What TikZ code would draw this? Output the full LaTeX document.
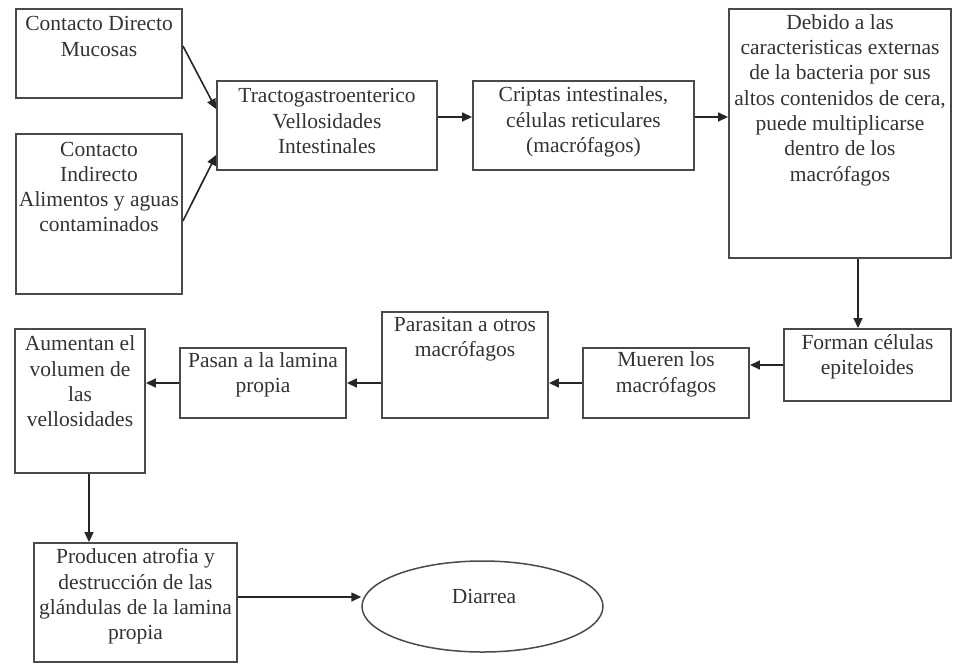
\documentclass[tikz,border=0pt]{standalone}
\usepackage{fontspec}
\setmainfont{Liberation Serif}
\usetikzlibrary{arrows.meta,shapes.geometric}
\definecolor{ln}{HTML}{4A4A4A}
\definecolor{tx}{HTML}{333333}
\tikzset{
  box/.style={draw=ln, line width=1.9pt, rectangle, inner sep=0pt, fill=none},
  oval/.style={draw=ln, line width=1.5pt, ellipse, inner sep=0pt},
  lbl/.style={text=tx, align=center, inner sep=0pt, font=\fontsize{21.5}{25.3}\selectfont},
  arr/.style={draw=black!85, line width=1.6pt, -{Triangle[length=10pt,width=9pt]}}
}
\begin{document}
\begin{tikzpicture}[x=1pt,y=-1pt]
\useasboundingbox (0,0) rectangle (956,665);
% boxes
\node[box, minimum width=166, minimum height=89] (A) at (99,53.5) {};
\node[box, minimum width=166, minimum height=160] (B) at (99,214) {};
\node[box, minimum width=220, minimum height=89] (C) at (327,125.5) {};
\node[box, minimum width=221, minimum height=89] (D) at (583.5,125.5) {};
\node[box, minimum width=222, minimum height=249] (E) at (840,133.5) {};
\node[box, minimum width=167, minimum height=72] (F) at (867.5,365) {};
\node[box, minimum width=166, minimum height=70] (G) at (666,383) {};
\node[box, minimum width=166, minimum height=106] (H) at (465,365) {};
\node[box, minimum width=166, minimum height=70] (I) at (263,383) {};
\node[box, minimum width=130, minimum height=144] (J) at (80,401) {};
\node[box, minimum width=203, minimum height=119] (K) at (135.5,602.5) {};
\node[oval, minimum width=241, minimum height=91] (L) at (482.5,606.5) {};
% texts
\node[lbl] (tA) at (99,36.5) {Contacto Directo\\Mucosas};
\node[lbl] (tB) at (99,187) {Contacto\\Indirecto\\Alimentos y aguas\\contaminados};
\node[lbl] (tC) at (327,121) {Tractogastroenterico\\Vellosidades\\Intestinales};
\node[lbl] (tD) at (583.5,122) {Criptas intestinales,\\células reticulares\\(macrófagos)};
\node[lbl] (tE) at (840,100) {Debido a las\\caracteristicas externas\\de la bacteria por sus\\altos contenidos de cera,\\puede multiplicarse\\dentro de los\\macrófagos};
\node[lbl] (tF) at (867.5,357) {Forman células\\epiteloides};
\node[lbl] (tG) at (666,374.5) {Mueren los\\macrófagos};
\node[lbl] (tH) at (465,339.5) {Parasitan a otros\\macrófagos};
\node[lbl] (tI) at (263,374.5) {Pasan a la lamina\\propia};
\node[lbl] (tJ) at (80,381.5) {Aumentan el\\volumen de\\las\\vellosidades};
\node[lbl] (tK) at (135.5,596.5) {Producen atrofia y\\destrucción de las\\glándulas de la lamina\\propia};
\node[lbl] (tL) at (484,596) {Diarrea};
% connectors
\draw[arr] (A.east |- 0,46) -- (C.west |- 0,109);
\draw[arr] (B.east |- 0,221) -- (C.west |- 0,155);
\draw[arr] (C.east |- 0,117) -- (D.west |- 0,117);
\draw[arr] (D.east |- 0,117) -- (E.west |- 0,117);
\draw[arr] (E.south -| 858,0) -- (F.north -| 858,0);
\draw[arr] (F.west |- 0,365) -- (G.east |- 0,365);
\draw[arr] (G.west |- 0,383) -- (H.east |- 0,383);
\draw[arr] (H.west |- 0,383) -- (I.east |- 0,383);
\draw[arr] (I.west |- 0,383) -- (J.east |- 0,383);
\draw[arr] (J.south -| 89,0) -- (K.north -| 89,0);
\draw[arr] (K.east |- 0,597) -- (L.west |- 0,597);
\end{tikzpicture}
\end{document}
